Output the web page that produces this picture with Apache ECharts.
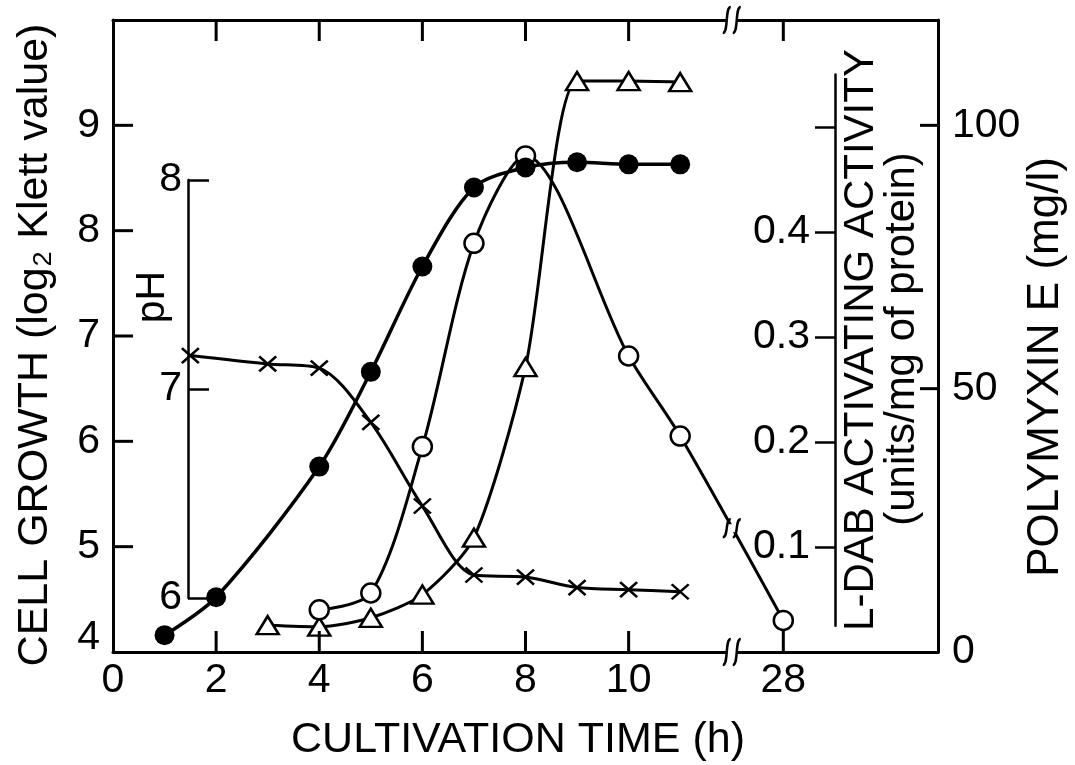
<!DOCTYPE html>
<html>
<head>
<meta charset="utf-8">
<title>Polymyxin E cultivation</title>
<script src="https://cdn.jsdelivr.net/npm/echarts@6/dist/echarts.min.js"></script>
<style>
html, body { margin: 0; padding: 0; background: #fff; }
#main { width: 1075px; height: 765px; }
</style>
</head>
<body>
<div id="main"></div>
<script type="text/javascript">
// cell growth, filled circles (log2 Klett value)
var timeGrowth = [1, 2, 4, 5, 6, 7, 8, 9, 10, 11];
var cellGrowth = [4.16, 4.52, 5.76, 6.66, 7.66, 8.41, 8.60, 8.65, 8.63, 8.63];

// L-DAB activating activity, open circles (units/mg of protein)
var timeActivity = [4, 5, 6, 7, 8, 10, 11, 28];
var dabActivity = [0.040, 0.056, 0.195, 0.388, 0.471, 0.281, 0.205, 0.030];

// polymyxin E, open triangles (mg/l)
var timePolymyxin = [3, 4, 5, 6, 7, 8, 9, 10, 11];
var polymyxin = [5.1, 4.8, 6.5, 10.9, 21.7, 54.1, 108.4, 108.4, 108.2];

// pH, crosses
var timePH = [1.5, 3, 4, 5, 6, 7, 8, 9, 10, 11];
var pHValues = [7.16, 7.12, 7.10, 6.84, 6.44, 6.11, 6.10, 6.05, 6.04, 6.03];

// tick labels / tick marks
var timeTicks = [0, 2, 4, 6, 8, 10, 28];
var growthTicks = [5, 6, 7, 8, 9];
var polymyxinTicks = [50, 100];
var activityTicks = [0.1, 0.2, 0.3, 0.4];

// the time axis is broken after 12 h, 28 h sits one unit after the break
var BREAK_AT = 12;
function place(t) { return t > BREAK_AT ? t - 15 : t; }
function unplace(v) { return v > BREAK_AT ? v + 15 : v; }
function pairs(ts, vs) { return ts.map(function (t, i) { return [place(t), vs[i]]; }); }

var FONT = 'Liberation Sans';
var tickPos = timeTicks.map(place);
var crossPath = 'path://M0,0L10,10M10,0L0,10';

var chart = echarts.init(document.getElementById('main'));

var labelStyle = { color: '#000', fontFamily: FONT, fontSize: 41 };
function axisLine(w) { return { onZero: false, lineStyle: { color: '#000', width: w } }; }

var option = {
    backgroundColor: '#fff',
    animation: false,
    grid: [
        { left: 113, right: 137, top: 20, bottom: 113 },
        { left: 835, right: 137, top: 74.5, height: 551.25 },
        { left: 113, right: 137, top: 180, height: 418 }
    ],
    xAxis: [
        {
            type: 'value', gridIndex: 0, position: 'bottom', min: 0, max: 16,
            axisLine: axisLine(3), splitLine: { show: false }, axisTick: { show: false },
            axisLabel: Object.assign({ margin: 8, customValues: tickPos,
                formatter: function (v) { return String(unplace(v)); } }, labelStyle)
        },
        {
            type: 'value', gridIndex: 0, position: 'top', min: 0, max: 16,
            axisLine: axisLine(3), splitLine: { show: false }, axisTick: { show: false },
            axisLabel: { show: false }
        },
        { type: 'value', gridIndex: 1, min: 0, max: 1, show: false },
        { type: 'value', gridIndex: 2, min: 0, max: 16, show: false }
    ],
    yAxis: [
        {
            type: 'value', gridIndex: 0, position: 'left', min: 4, max: 10, interval: 1,
            axisLine: axisLine(3), splitLine: { show: false }, axisTick: { show: false },
            axisLabel: Object.assign({ margin: 13, showMaxLabel: false,
                formatter: function (v) { return v === 4 ? '{up|4}' : String(v); },
                rich: { up: { fontFamily: FONT, fontSize: 41, color: '#000', padding: [0, 0, 28, 0] } }
            }, labelStyle)
        },
        {
            type: 'value', gridIndex: 0, position: 'right', min: 0, max: 120, interval: 50,
            axisLine: axisLine(3), splitLine: { show: false }, axisTick: { show: false },
            axisLabel: Object.assign({ margin: 14, showMaxLabel: false }, labelStyle)
        },
        { type: 'value', gridIndex: 0, position: 'left', min: 0, max: 0.6, show: false },
        {
            type: 'value', gridIndex: 1, position: 'left', min: 0.025, max: 0.55,
            axisLine: axisLine(2.5), splitLine: { show: false },
            axisTick: { length: 20, lineStyle: { width: 2.5, color: '#000' },
                customValues: activityTicks.concat([0.5]) },
            axisLabel: Object.assign({ margin: 25, customValues: activityTicks,
                formatter: function (v) { return v.toFixed(1); } }, labelStyle)
        },
        {
            type: 'value', gridIndex: 2, position: 'left', offset: -75, min: 6, max: 8, interval: 1,
            axisLine: axisLine(2.5), splitLine: { show: false },
            axisTick: { inside: true, length: 21, lineStyle: { width: 2.5, color: '#000' } },
            axisLabel: Object.assign({ margin: 6 }, labelStyle)
        }
    ],
    series: [
        {
            name: 'pH', type: 'line', xAxisIndex: 3, yAxisIndex: 4,
            data: pairs(timePH, pHValues), smooth: 0.3, clip: false,
            symbol: crossPath, symbolSize: [17, 15],
            lineStyle: { color: '#000', width: 3 },
            itemStyle: { color: 'rgba(0,0,0,0)', borderColor: '#000', borderWidth: 2.5 }
        },
        {
            name: 'Polymyxin E', type: 'line', xAxisIndex: 0, yAxisIndex: 1,
            data: pairs(timePolymyxin, polymyxin), smooth: 0.25, clip: false,
            symbol: 'triangle', symbolSize: [22, 18],
            lineStyle: { color: '#000', width: 3 },
            itemStyle: { color: '#fff', borderColor: '#000', borderWidth: 2.5, opacity: 1 }
        },
        {
            name: 'L-DAB activating activity', type: 'line', xAxisIndex: 0, yAxisIndex: 2,
            data: pairs(timeActivity, dabActivity), smooth: 0.3, clip: false,
            symbol: 'circle', symbolSize: 19,
            lineStyle: { color: '#000', width: 3 },
            itemStyle: { color: '#fff', borderColor: '#000', borderWidth: 2.5, opacity: 1 }
        },
        {
            name: 'Cell growth', type: 'line', xAxisIndex: 0, yAxisIndex: 0,
            data: pairs(timeGrowth, cellGrowth), smooth: 0.3, clip: false,
            symbol: 'circle', symbolSize: 20,
            lineStyle: { color: '#000', width: 3.5 },
            itemStyle: { color: '#000', opacity: 1 }
        }
    ]
};
chart.setOption(option);

// titles, inward ticks and break marks, placed from the axes
var titleFont = { fontFamily: FONT, fill: '#000', align: 'center', verticalAlign: 'middle' };
function text(str, x, y, size, rot) {
    return { type: 'text', x: x, y: y, rotation: rot ? Math.PI / 2 : 0, z: 10,
        style: Object.assign({ text: str, fontSize: size }, titleFont) };
}
function seg(x1, y1, x2, y2, w) {
    return { type: 'line', z: 15, shape: { x1: x1, y1: y1, x2: x2, y2: y2 },
        style: { stroke: '#000', lineWidth: w || 3 } };
}
function breakMark(cx, cy, h) {
    var els = [{ type: 'rect', z: 20, shape: { x: cx - 5, y: cy - 4, width: 10, height: 8 },
        style: { fill: '#fff' } }];
    [-5, 5].forEach(function (d) {
        els.push({ type: 'bezierCurve', z: 21,
            shape: { x1: cx + d - 4, y1: cy + h, x2: cx + d + 4, y2: cy - h,
                cpx1: cx + d + 2, cpy1: cy + h, cpx2: cx + d - 2, cpy2: cy - h },
            style: { stroke: '#000', lineWidth: 2.5, fill: null } });
    });
    return els;
}

var xLeft = chart.convertToPixel({ xAxisIndex: 0 }, 0);
var xRight = chart.convertToPixel({ xAxisIndex: 0 }, 16);
var yTop = chart.convertToPixel({ yAxisIndex: 0 }, 10);
var yBot = chart.convertToPixel({ yAxisIndex: 0 }, 4);
var xb = chart.convertToPixel({ xAxisIndex: 0 }, BREAK_AT);

var tickEls = [];
tickPos.slice(1).forEach(function (v) {
    var x = chart.convertToPixel({ xAxisIndex: 0 }, v);
    tickEls.push(seg(x, yBot, x, yBot - 21), seg(x, yTop, x, yTop + 21));
});
growthTicks.forEach(function (v) {
    var y = chart.convertToPixel({ yAxisIndex: 0 }, v);
    tickEls.push(seg(xLeft, y, xLeft + 20, y));
});
polymyxinTicks.forEach(function (v) {
    var y = chart.convertToPixel({ yAxisIndex: 1 }, v);
    tickEls.push(seg(xRight - 18, y, xRight, y));
});

var n = timeActivity.length;
var pA = chart.convertToPixel({ xAxisIndex: 0, yAxisIndex: 2 }, [place(timeActivity[n - 2]), dabActivity[n - 2]]);
var pB = chart.convertToPixel({ xAxisIndex: 0, yAxisIndex: 2 }, [place(timeActivity[n - 1]), dabActivity[n - 1]]);
var yLine = pA[1] + (pB[1] - pA[1]) * (xb - pA[0]) / (pB[0] - pA[0]);

var graphics = [
    text('CELL GROWTH (log\u2082 Klett value)', 35, 345, 43, true),
    text('CULTIVATION TIME (h)', 518, 740, 43, false),
    text('pH', 153, 297, 41, true),
    text('L-DAB ACTIVATING ACTIVITY', 861, 340, 42, true),
    text('(units/mg of protein)', 902, 339, 42, true),
    text('POLYMYXIN E (mg/l)', 1046, 367, 44, true)
].concat(tickEls, breakMark(xb, yTop, 13), breakMark(xb, yBot, 13), breakMark(xb, yLine, 9));

chart.setOption({ graphic: graphics });
</script>
</body>
</html>
